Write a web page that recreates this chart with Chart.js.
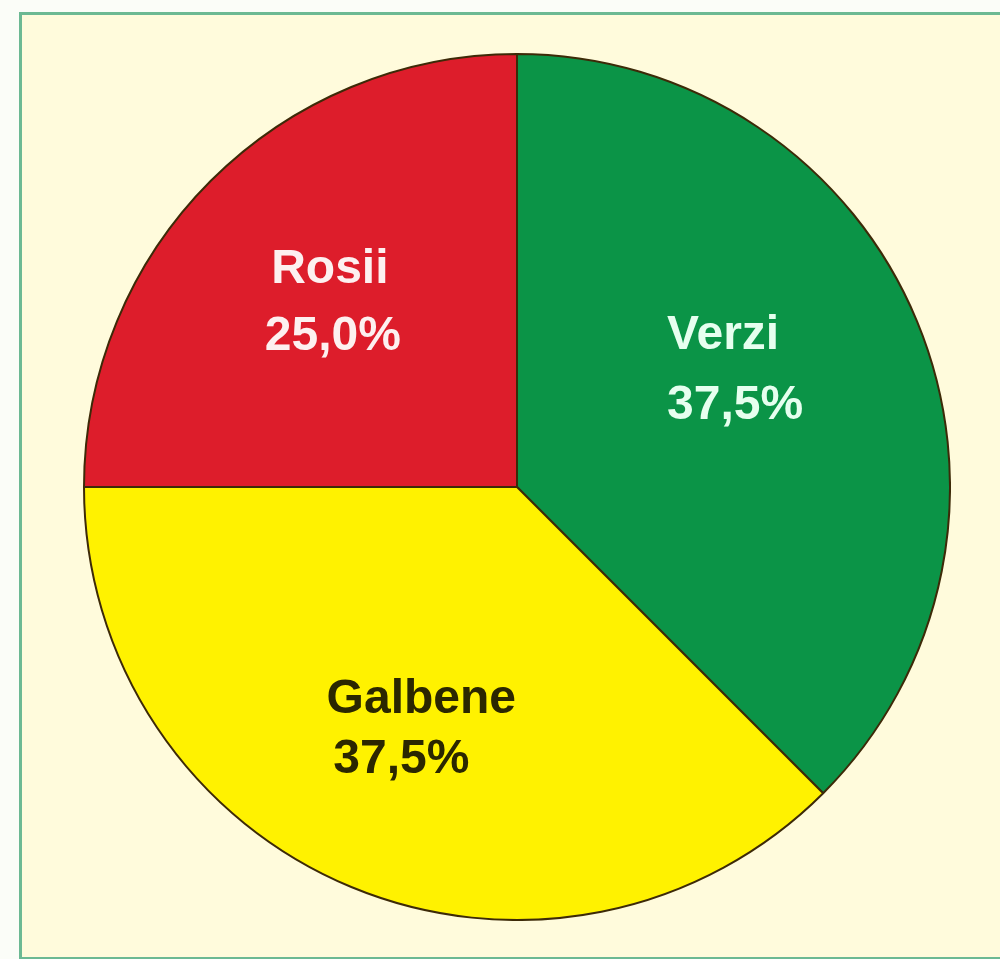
<!DOCTYPE html>
<html>
<head>
<meta charset="utf-8">
<script src="https://cdn.jsdelivr.net/npm/chart.js@4/dist/chart.umd.min.js"></script>
<style>
  html, body { margin: 0; padding: 0; background: #fbfdf8; }
  body { width: 1000px; height: 959px; position: relative; overflow: hidden; }
  .frame {
    position: absolute; left: 19px; top: 12px; width: 1000px; height: 942px;
    border: 3px solid #6cb993; background: #fffbdc;
  }
  .plot { position: absolute; left: 83px; top: 53px; width: 868px; height: 868px; }
</style>
</head>
<body>
<div class="frame"></div>
<div class="plot"><canvas id="pieChart"></canvas></div>
<script>
// categories and values, clockwise from 12 o'clock
const categories = ['Verzi', 'Galbene', 'Rosii'];
const shares = [37.5, 37.5, 25.0];
const sliceColors = ['#0b9447', '#fff200', '#dd1d2b'];
const labelColors = ['#e6ffef', '#2b2700', '#fdf0f0'];
// where the text sits inside each slice (fraction of radius, angle nudge in degrees, line x shift, half line gap)
const labelRadius = [0.547, 0.603, 0.606];
const labelNudge = [-7, -1, -0.5];
const secondLineShift = [12, -20, 3];
const halfGap = [35, 30, 33.5];

const fmt = v => v.toFixed(1).replace('.', ',') + '%';

const sliceLabels = {
  id: 'sliceLabels',
  afterDatasetsDraw(chart) {
    const ctx = chart.ctx;
    const arcs = chart.getDatasetMeta(0).data;
    ctx.save();
    ctx.font = 'bold 48px "Liberation Sans", Arial, sans-serif';
    ctx.textAlign = 'center';
    ctx.textBaseline = 'middle';
    arcs.forEach((arc, i) => {
      const p = arc.getProps(['x', 'y', 'startAngle', 'endAngle', 'outerRadius'], true);
      const mid = (p.startAngle + p.endAngle) / 2 + labelNudge[i] * Math.PI / 180;
      const r = p.outerRadius * labelRadius[i];
      const cx = p.x + Math.cos(mid) * r;
      const cy = p.y + Math.sin(mid) * r;
      ctx.fillStyle = labelColors[i];
      ctx.fillText(categories[i], cx, cy - halfGap[i]);
      ctx.fillText(fmt(shares[i]), cx + secondLineShift[i], cy + halfGap[i]);
    });
    ctx.restore();
  }
};

new Chart(document.getElementById('pieChart'), {
  type: 'pie',
  data: {
    labels: categories,
    datasets: [{
      data: shares,
      backgroundColor: sliceColors,
      borderColor: '#3d2a08',
      borderWidth: 2
    }]
  },
  options: {
    responsive: true,
    maintainAspectRatio: false,
    animation: false,
    rotation: 0,
    layout: { padding: 0 },
    plugins: {
      legend: { display: false },
      tooltip: { enabled: false }
    }
  },
  plugins: [sliceLabels]
});
</script>
</body>
</html>
